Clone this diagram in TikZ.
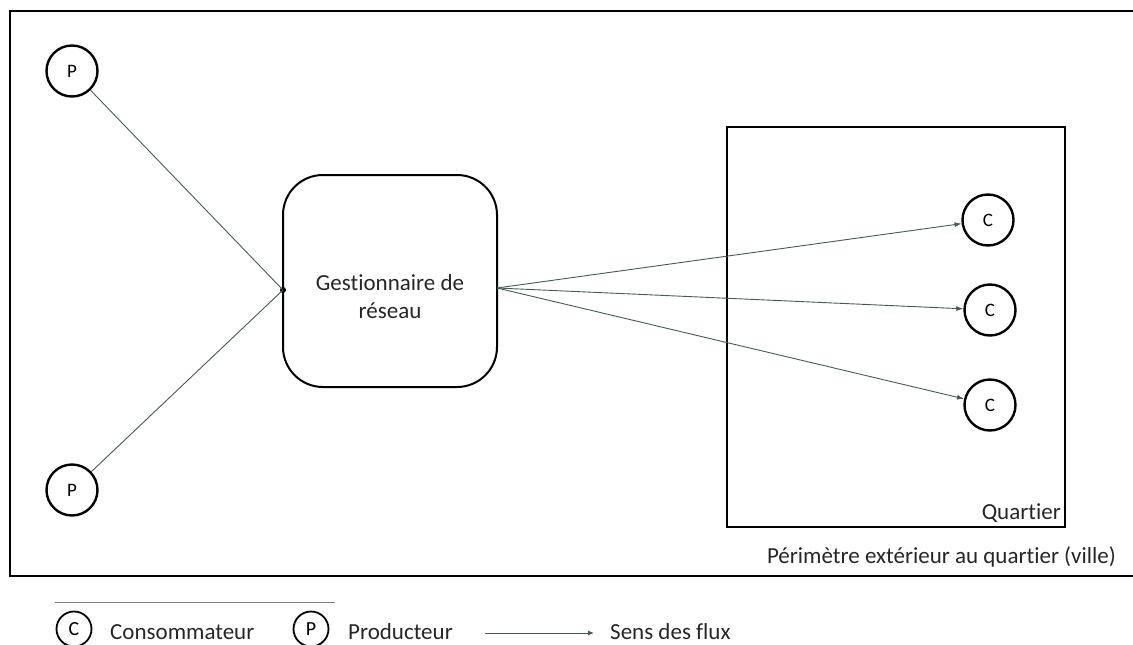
\documentclass[tikz,border=0pt]{standalone}
\usepackage{fontspec}
\setmainfont[Ligatures=NoCommon]{Carlito}
\usetikzlibrary{arrows.meta}
\definecolor{lnc}{RGB}{70,88,88}
\begin{document}
\begin{tikzpicture}[x=1pt,y=-1pt,
  circ/.style={draw=black,line width=2.4pt,circle,minimum size=51pt,inner sep=0pt,font=\fontsize{19}{22}\selectfont},
  lcirc/.style={draw=black,line width=1.8pt,circle,minimum size=35pt,inner sep=0pt,font=\fontsize{20}{22}\selectfont},
  conn/.style={draw=lnc,line width=0.9pt},
  flow/.style={conn,-{Latex[length=7pt,width=5pt]}},
  lbl/.style={font=\fontsize{23}{27}\selectfont,inner sep=0pt,text=black!85}]
\useasboundingbox (0,0) rectangle (1133,645);
\begin{scope}
\clip (0,0) rectangle (1133,645);
% outer perimeter
\draw[line width=2.8pt] (1140,11) -- (10,11) -- (10,576) -- (1140,576);
% quartier
\node[draw,line width=2.8pt,minimum width=338pt,minimum height=400pt,inner sep=0pt] (Q) at (896,327) {};
\node[lbl,anchor=south east] (ql) at (1061,523) {Quartier};
\node[lbl,anchor=south east] (pl) at (1116,567) {Périmètre extérieur au quartier (ville)};
% manager
\node[draw,line width=2pt,rounded corners=40pt,minimum width=214pt,minimum height=212pt] (G) at (390,281) {};
\node[lbl,align=center] (Gt) at (390,297) {Gestionnaire de\\[1pt]réseau};
% producers
\node[circ] (P1) at (72,71) {P};
\node[circ] (P2) at (72,490) {P};
\coordinate (J) at (283,290);
\fill (J) circle (3pt);
\draw[conn] (P1) -- (J);
\draw[conn] (P2) -- (J);
% consumers
\node[circ] (C1) at (988,220) {C};
\node[circ] (C2) at (990,310) {C};
\node[circ] (C3) at (990,405) {C};
\coordinate (S) at (497,288);
\draw[flow] (S) -- (C1);
\draw[flow] (S) -- (C2);
\draw[flow] (S) -- (C3);
% legend
\coordinate (L1) at (55,602);
\coordinate (L2) at (335,602);
\draw[conn,line width=0.6pt,draw=gray] (L1) -- (L2);
\node[lcirc] (lc) at (74,629) {C};
\node[lbl,anchor=west] (lct) at (110,632) {Consommateur};
\node[lcirc] (lp) at (311,629) {P};
\node[lbl,anchor=west] (lpt) at (348,632) {Producteur};
\coordinate (A1) at (485,633);
\coordinate (A2) at (594,633);
\draw[flow,-{Latex[length=6pt,width=5pt]}] (A1) -- (A2);
\node[lbl,anchor=west] (lf) at (610,632) {Sens des flux};
\end{scope}
\end{tikzpicture}
\end{document}
